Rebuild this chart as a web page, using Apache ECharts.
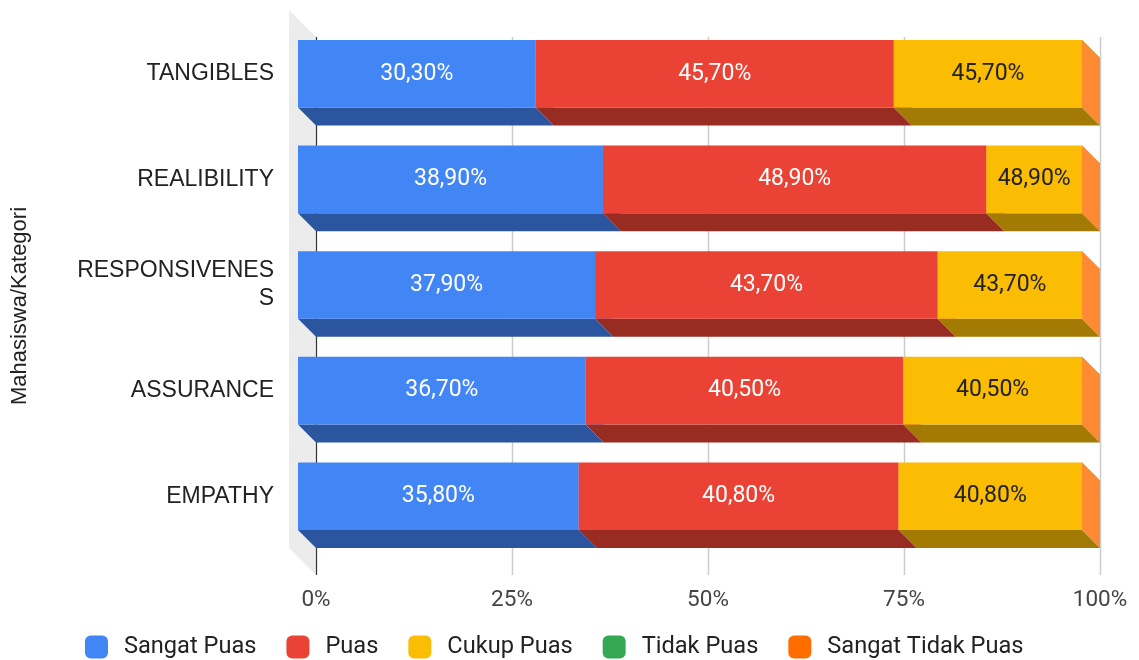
<!DOCTYPE html>
<html>
<head>
<meta charset="utf-8">
<script src="https://cdn.jsdelivr.net/npm/echarts@6/dist/echarts.min.js"></script>
<style>
  html, body { margin: 0; padding: 0; background: #ffffff; }
  #chart { width: 1139px; height: 660px; }
</style>
</head>
<body>
<div id="chart"></div>
<script>
// Survey categories (top to bottom)
const categories = ['TANGIBLES', 'REALIBILITY', 'RESPONSIVENESS', 'ASSURANCE', 'EMPATHY'];

// Share of each response per category, in percent
const sangatPuas      = [30.3, 38.9, 37.9, 36.7, 35.8];
const puas            = [45.7, 48.9, 43.7, 40.5, 40.8];
const cukupPuas       = [24.0, 12.2, 18.4, 22.8, 23.4];
const tidakPuas       = [0, 0, 0, 0, 0];
const sangatTidakPuas = [0, 0, 0, 0, 0];

// Text printed on the "Cukup Puas" segments
const cukupPuasLabels = ['45,70%', '48,90%', '43,70%', '40,50%', '40,80%'];

// Value axis ticks
const xTicks = [0, 25, 50, 75, 100];

const seriesNames  = ['Sangat Puas', 'Puas', 'Cukup Puas', 'Tidak Puas', 'Sangat Tidak Puas'];
const seriesValues = [sangatPuas, puas, cukupPuas, tidakPuas, sangatTidakPuas];
const seriesColors = ['#4285f4', '#ea4335', '#fbbc04', '#34a853', '#ff6d01'];
const labelColors  = ['#ffffff', '#ffffff', '#222222', '#222222', '#222222'];

const DEPTH = 18;       // bar extrusion (back plane sits DEPTH right and down)
const WALL_DEPTH = 27;  // left wall extrusion

function shade(hex, f) {
  const n = parseInt(hex.slice(1), 16);
  const r = (n >> 16) & 255, g = (n >> 8) & 255, b = n & 255;
  const c = v => Math.max(0, Math.min(255, Math.round(v)));
  if (f < 1) return 'rgb(' + c(r * f) + ',' + c(g * f) + ',' + c(b * f) + ')';
  const t = f - 1;
  return 'rgb(' + c(r + (255 - r) * t) + ',' + c(g + (255 - g) * t) + ',' + c(b + (255 - b) * t) + ')';
}

function fmt(v) {
  return v.toFixed(2).replace('.', ',') + '%';
}

// Stack the series: each item holds [category, start, end, value]
const cumulative = categories.map(() => 0);
const stackedData = seriesValues.map(vals => vals.map((v, i) => {
  const start = cumulative[i];
  cumulative[i] += v;
  return [i, start, cumulative[i], v];
}));

function barRenderer(sIdx) {
  const color = seriesColors[sIdx];
  return function (params, api) {
    const cat = api.value(0);
    const pStart = api.coord([api.value(1), cat]);
    const pEnd = api.coord([api.value(2), cat]);
    const barH = api.size([0, 1])[1] * 0.64;
    // x positions are read on the back plane; the front face sits DEPTH to the left
    const x0 = pStart[0] - DEPTH;
    const x1 = pEnd[0] - DEPTH;
    const yTop = pStart[1] - barH / 2;
    const yBot = yTop + barH;
    const children = [
      { // underside
        type: 'polygon',
        shape: { points: [[x0, yBot], [x1, yBot], [x1 + DEPTH, yBot + DEPTH], [x0 + DEPTH, yBot + DEPTH]] },
        style: { fill: shade(color, 0.65) }
      },
      { // end face
        type: 'polygon',
        shape: { points: [[x1, yTop], [x1 + DEPTH, yTop + DEPTH], [x1 + DEPTH, yBot + DEPTH], [x1, yBot]] },
        style: { fill: shade(color, 1.2) }
      },
      { // front face
        type: 'rect',
        shape: { x: x0, y: yTop, width: x1 - x0, height: barH },
        style: { fill: color }
      }
    ];
    const val = api.value(3);
    if (val > 0) {
      const text = sIdx === 2 ? cukupPuasLabels[cat] : fmt(val);
      children.push({
        type: 'text',
        style: {
          text: text,
          x: (x0 + x1) / 2,
          y: (yTop + yBot) / 2,
          align: 'center',
          verticalAlign: 'middle',
          fill: labelColors[sIdx],
          font: '23px Roboto'
        }
      });
    }
    return { type: 'group', children: children };
  };
}

// Back wall: side panel, gridlines and the zero line
function wallRenderer(params, api) {
  const cs = params.coordSys;
  const top = cs.y + DEPTH - 2;
  const bottom = cs.y + cs.height + DEPTH + 8;
  const bx = api.coord([0, 0])[0];
  const children = [{
    type: 'polygon',
    shape: { points: [[bx - WALL_DEPTH, top - WALL_DEPTH], [bx, top], [bx, bottom], [bx - WALL_DEPTH, bottom - WALL_DEPTH]] },
    style: { fill: '#ececec' }
  }];
  xTicks.forEach(t => {
    const x = Math.round(api.coord([t, 0])[0]) + 0.5;
    children.push({
      type: 'line',
      shape: { x1: x, y1: top, x2: x, y2: bottom },
      style: { stroke: t === 0 ? '#333333' : '#cccccc', lineWidth: t === 0 ? 1.2 : 1.5 }
    });
  });
  return { type: 'group', children: children };
}

const series = [{
  type: 'custom',
  name: 'wall',
  renderItem: wallRenderer,
  data: [[0]],
  silent: true,
  z: 1
}];
seriesNames.forEach((name, sIdx) => {
  series.push({
    type: 'custom',
    name: name,
    renderItem: barRenderer(sIdx),
    encode: { x: [1, 2], y: 0 },
    data: stackedData[sIdx],
    itemStyle: { color: seriesColors[sIdx] },
    z: 2
  });
});

const chart = echarts.init(document.getElementById('chart'), null, { renderer: 'canvas' });
chart.setOption({
  animation: false,
  color: seriesColors,
  grid: { left: 316, right: 39, top: 21, bottom: 111, containLabel: false },
  graphic: [{
    // vertical axis title
    type: 'text',
    x: 20,
    y: 306,
    rotation: Math.PI / 2,
    style: {
      text: 'Mahasiswa/Kategori',
      align: 'center',
      verticalAlign: 'middle',
      fill: '#222222',
      font: '22px "Liberation Sans"'
    }
  }],
  xAxis: {
    type: 'value',
    min: 0,
    max: 100,
    interval: 25,
    axisLine: { show: false },
    axisTick: { show: false },
    splitLine: { show: false },
    axisLabel: {
      formatter: '{value}%',
      margin: 40,
      color: '#444444',
      fontFamily: 'Roboto',
      fontSize: 22.5
    }
  },
  yAxis: {
    type: 'category',
    data: categories,
    inverse: true,
    axisLine: { show: false },
    axisTick: { show: false },
    splitLine: { show: false },
    axisLabel: {
      margin: 42,
      color: '#222222',
      fontFamily: 'Liberation Sans',
      fontSize: 23,
      width: 202,
      overflow: 'breakAll',
      align: 'right',
      lineHeight: 28
    }
  },
  legend: {
    data: seriesNames,
    bottom: -4,
    left: 80,
    icon: 'roundRect',
    itemWidth: 23,
    itemHeight: 23,
    itemGap: 30,
    textStyle: { fontFamily: 'Roboto', fontSize: 23.6, color: '#222222', padding: [0, 0, 0, 11] }
  },
  series: series
});
</script>
</body>
</html>
